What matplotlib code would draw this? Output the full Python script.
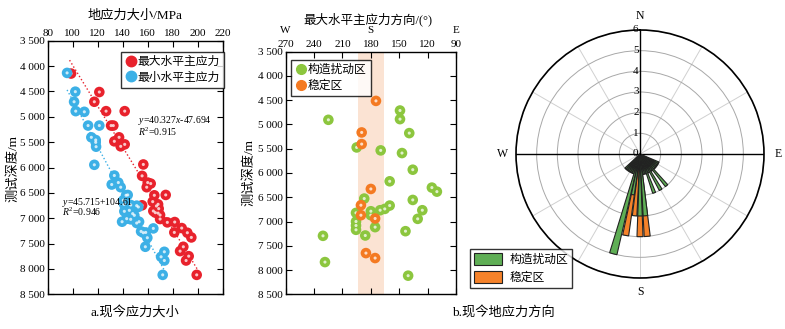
import numpy as np
import matplotlib
matplotlib.use("Agg")
import matplotlib.pyplot as plt
from matplotlib.ticker import FuncFormatter
from matplotlib.patches import Patch
from matplotlib.lines import Line2D
import matplotlib.transforms as mtransforms

plt.rcParams['font.family'] = ['Liberation Serif', 'Noto Sans CJK SC']
plt.rcParams['mathtext.fontset'] = 'custom'
plt.rcParams['mathtext.rm'] = 'Liberation Serif'
plt.rcParams['mathtext.it'] = 'Liberation Serif:italic'

# ---------------- data: panel a ----------------
shmax_x = [98.7,121.3,117.3,126.7,141.6,130.7,132.5,137.1,133.3,138.4,141.6,156.5,155.5,160.0,162.4,159.2,165.3,174.4,164.0,167.0,168.3,168.8,164.5,155.5,168.3,169.9,166.1,169.9,151.2,175.7,181.6,187.2,181.3,191.7,194.9,188.5,185.9,192.8,190.7,199.2]
shmax_y = [4148,4512,4704,4889,4889,5173,5173,5405,5484,5583,5544,5940,6165,6297,6317,6389,6548,6541,6673,6759,6726,6811,6858,6745,6900,6937,6890,7016,7055,7082,7075,7194,7280,7286,7379,7563,7649,7748,7834,8117]
shmin_x = [95.5,102.1,101.1,102.4,109.3,112.3,121.3,114.9,118.4,118.4,118.7,117.3,133.3,131.2,136.5,138.4,142.7,144.0,140.5,141.1,146.4,151.2,152.5,141.3,145.3,148.0,149.3,143.2,146.4,151.2,153.1,139.5,154.7,156.5,158.4,164.5,159.7,158.1,173.3,170.7,173.3,172.0]
shmin_y = [4135,4505,4704,4889,4902,5173,5173,5405,5458,5504,5590,5947,6158,6336,6297,6389,6548,6541,6646,6726,6739,6752,6778,6864,6844,6910,6943,7009,7022,7095,7069,7069,7260,7286,7280,7201,7385,7563,7662,7761,7834,8117]
fit_max = (40.327, -47.694)
fit_max_range = (97.5, 199.5)
fit_min = (45.715, 104.61)
fit_min_range = (95.5, 173.5)
labels_a = ['最大水平主应力', '最小水平主应力']
xticks_a = [80, 100, 120, 140, 160, 180, 200, 220]
yticks = [3500, 4000, 4500, 5000, 5500, 6000, 6500, 7000, 7500, 8000, 8500]

# ---------------- data: panel b ----------------
green_deg = [224.9,149.2,149.2,139.4,195.0,169.6,147.1,135.7,160.1,115.5,110.2,135.7,187.0,125.6,195.7,180.0,180.0,170.2,165.3,160.1,130.5,195.7,195.7,195.7,175.5,143.4,185.9,230.6,228.5,140.6]
green_depth = [4904,4712,4890,5178,5473,5534,5589,5932,6171,6301,6384,6555,6527,6767,6822,6788,6870,6767,6740,6671,6945,7000,7082,7171,7116,7199,7288,7295,7836,8116]
orange_deg = [174.6,189.7,189.7,180.0,190.5,190.5,175.5,185.2,175.5]
orange_depth = [4514,5164,5404,6329,6664,6870,6938,7651,7753]
band_deg = (165.8, 193.2)
labels_b = ['构造扰动区', '稳定区']
xticks_b = [270, 240, 210, 180, 150, 120, 90]
dir_labels = {270: 'W', 180: 'S', 90: 'E'}

# ---------------- data: rose ----------------
rose_green_deg = [195, 190, 180, 175, 160, 150, 140, 115, 120, 125, 130, 135, 145, 155, 165, 170, 200, 205, 210, 215, 220, 225]
rose_green_n   = [5,   2,   3,   3,   2,   2,   2,   1,   1,   1,   1,   1,   1,   1,   1,   1,   1,   1,   1,   1,   1,   1]
rose_orange_deg = [190, 185, 180, 175]
rose_orange_n   = [4,   3,   4,   4]
rose_rticks = [0, 1, 2, 3, 4, 5, 6]
rose_compass = [(0, 'N'), (90, 'E'), (180, 'S'), (270, 'W')]

c_red = '#e8222c'
c_blue = '#3cb0e6'
c_green = '#8cc63e'
c_orange = '#f47a22'
c_green_bar = '#5fae55'
c_orange_bar = '#f5822a'

W, H = 785, 329
fig = plt.figure(figsize=(W/100, H/100), dpi=100)

def fx(px):
    return px / W

def fy(py):
    return 1 - py / H

def depth_fmt(v, pos):
    v = int(round(v))
    return f"{v//1000} {v%1000:03d}"

def balls(ax, x, y, color, z=3):
    ax.scatter(x, y, s=58, c=color, edgecolors='none', zorder=z)
    ax.scatter(x, y, s=5, c='white', alpha=0.75, edgecolors='none', zorder=z+0.1)

# ---------- panel a ----------
axa = fig.add_axes([fx(47.7), fy(294.3), fx(222.7) - fx(47.7), fy(40.7) - fy(294.3)])
xs = np.array(fit_max_range)
axa.plot(xs, fit_max[0]*xs + fit_max[1], ls=':', color=c_red, lw=1.0, zorder=2)
xs = np.array(fit_min_range)
axa.plot(xs, fit_min[0]*xs + fit_min[1], ls=':', color=c_blue, lw=1.0, zorder=2)
balls(axa, shmax_x, shmax_y, c_red, 3)
balls(axa, shmin_x, shmin_y, c_blue, 4)
axa.set_xlim(80, 220)
axa.set_ylim(8500, 3500)
axa.set_xticks(xticks_a)
axa.set_yticks(yticks)
axa.yaxis.set_major_formatter(FuncFormatter(depth_fmt))
axa.xaxis.tick_top()
axa.tick_params(axis='both', direction='in', top=True, bottom=True, left=True, right=True,
                labeltop=True, labelbottom=False, labelsize=8, length=4, width=0.8, pad=2)
for s in axa.spines.values():
    s.set_linewidth(1.0)
axa.text(152.5, 5074, '$y$=40.327$x$-47.694', fontsize=7, va='center', ha='left', zorder=6)
axa.text(152.5, 5305, '$R^2$=0.915', fontsize=7, va='center', ha='left', zorder=6)
axa.text(91.2, 6693, '$y$=45.715+104.61', fontsize=7, va='center', ha='left', zorder=6)
axa.text(91.2, 6877, '$R^2$=0.946', fontsize=7, va='center', ha='left', zorder=6)
ha = [Line2D([], [], marker='o', ls='none', color=c_red, markersize=7.5),
      Line2D([], [], marker='o', ls='none', color=c_blue, markersize=7.5)]
lga = axa.legend(ha, labels_a, loc='upper left', bbox_to_anchor=((120.7-47.7)/175, 1-(51.7-40.7)/253.6),
                 frameon=True, fancybox=False, edgecolor='black', fontsize=8.5,
                 handletextpad=0.1, borderpad=0.35, labelspacing=0.3, handlelength=1.0, borderaxespad=0)
lga.get_frame().set_linewidth(1.0)
fig.text(fx(135), fy(16), '地应力大小/MPa', ha='center', va='center', fontsize=9.5)
fig.text(fx(13), fy(168), '测试深度/m', ha='center', va='center', rotation=90, fontsize=9.5)
fig.text(fx(135), fy(312), 'a.现今应力大小', ha='center', va='center', fontsize=9.5)

# ---------- panel b ----------
axb = fig.add_axes([fx(285.7), fy(294.3), fx(456) - fx(285.7), fy(51.7) - fy(294.3)])
axb.axvspan(band_deg[0], band_deg[1], color='#fbe3d3', zorder=1, lw=0)
balls(axb, green_deg, green_depth, c_green, 3)
balls(axb, orange_deg, orange_depth, c_orange, 4)
axb.set_xlim(270, 90)
axb.set_ylim(8500, 3500)
axb.set_xticks(xticks_b)
axb.set_yticks(yticks)
axb.yaxis.set_major_formatter(FuncFormatter(depth_fmt))
axb.xaxis.tick_top()
axb.tick_params(axis='both', direction='in', top=True, bottom=True, left=True, right=True,
                labeltop=True, labelbottom=False, labelsize=8, length=4, width=0.8, pad=2)
for s in axb.spines.values():
    s.set_linewidth(1.0)
trb = mtransforms.blended_transform_factory(axb.transData, axb.transAxes)
for k, v in dir_labels.items():
    axb.text(k, 1.088, v, transform=trb, ha='center', va='center', fontsize=8)
hb = [Line2D([], [], marker='o', ls='none', color=c_green, markersize=7),
      Line2D([], [], marker='o', ls='none', color=c_orange, markersize=7)]
lgb = axb.legend(hb, labels_b, loc='upper left', bbox_to_anchor=((290.7-285.7)/170.3, 1-(60-51.7)/242.6),
                 frameon=True, fancybox=False, edgecolor='black', fontsize=8.5,
                 handletextpad=0.1, borderpad=0.35, labelspacing=0.3, handlelength=1.0, borderaxespad=0)
lgb.get_frame().set_linewidth(1.0)
fig.text(fx(368), fy(19.5), '最大水平主应力方向/(°)', ha='center', va='center', fontsize=9)
fig.text(fx(249), fy(172), '测试深度/m', ha='center', va='center', rotation=90, fontsize=9.5)
fig.text(fx(503), fy(312), 'b.现今地应力方向', ha='center', va='center', fontsize=9.5)

# ---------- rose ----------
R = 124
cx, cy = 640, 154
axr = fig.add_axes([fx(cx - R), fy(cy + R), 2*R/W, 2*R/H], projection='polar')
axr.set_theta_zero_location('N')
axr.set_theta_direction(-1)
axr.set_ylim(0, 6)
axr.set_yticks(rose_rticks)
axr.set_yticklabels([])
axr.set_thetagrids(np.arange(0, 360, 30), [''] * 12)
axr.yaxis.grid(True, color='#a8a8a8', lw=0.7)
axr.xaxis.grid(True, color='#d0d0d0', lw=0.7)
axr.tick_params(axis='x', direction='in', length=0)
axr.spines['polar'].set_linewidth(1.2)
axr.set_axisbelow(True)
bw = np.deg2rad(4.2)
axr.bar(np.deg2rad(rose_orange_deg), rose_orange_n, width=bw, color=c_orange_bar,
        edgecolor='#222222', lw=0.8, zorder=3)
axr.bar(np.deg2rad(rose_green_deg), rose_green_n, width=bw, color=c_green_bar,
        edgecolor='#222222', lw=0.8, zorder=4)
axr.plot([0, 0], [0, 6], color='black', lw=1.0, zorder=5)
axr.plot([np.pi/2, np.pi/2], [0, 6], color='black', lw=1.0, zorder=2)
axr.plot([3*np.pi/2, 3*np.pi/2], [0, 6], color='black', lw=1.0, zorder=2)
for r in rose_rticks:
    axr.annotate(str(r), xy=(0, r), xytext=(-1, 0), textcoords='offset points',
                 ha='right', va='center', fontsize=8, zorder=6)
offs = {'N': (0, 10), 'E': (10, 0), 'S': (0, -10), 'W': (-10, 0)}
for ang, lab in rose_compass:
    axr.annotate(lab, xy=(np.deg2rad(ang), 6), xytext=offs[lab], textcoords='offset points',
                 ha='center', va='center', fontsize=8.5, annotation_clip=False)
hr = [Patch(facecolor=c_green_bar, edgecolor='#222222', lw=0.8),
      Patch(facecolor=c_orange_bar, edgecolor='#222222', lw=0.8)]
lgr = fig.legend(hr, labels_b, loc='upper left', bbox_to_anchor=(fx(470), fy(249.3)),
                 frameon=True, fancybox=False, edgecolor='black', fontsize=8.5,
                 handlelength=2.4, handleheight=1.1, handletextpad=0.6, borderpad=0.35,
                 labelspacing=0.45, borderaxespad=0)
lgr.get_frame().set_linewidth(1.0)

fig.savefig('out.png', dpi=100)
